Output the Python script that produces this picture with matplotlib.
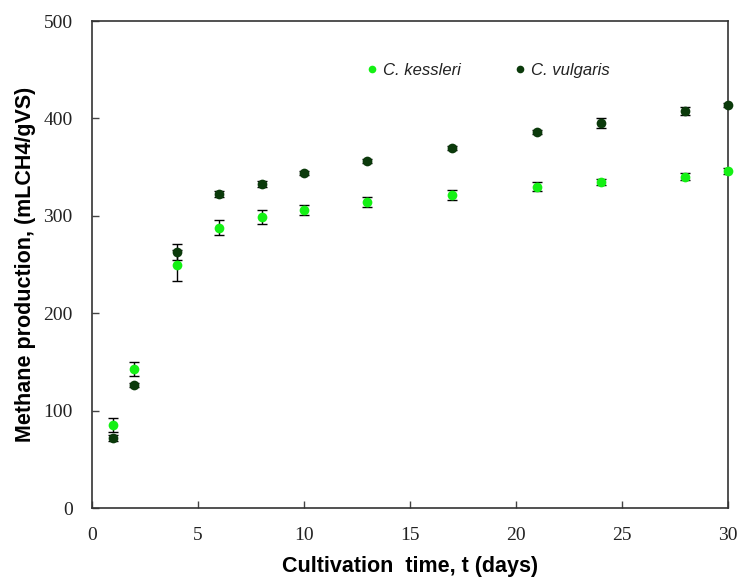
import numpy as np
import matplotlib.pyplot as plt
from matplotlib.lines import Line2D

# cultivation time (days)
days = [1, 2, 4, 6, 8, 10, 13, 17, 21, 24, 28, 30]

# cumulative methane yield, mL CH4 / g VS
kessleri = [85, 143, 249, 288, 299, 306, 314, 321, 330, 335, 340, 346]
kessleri_err = [7, 7, 16, 8, 7, 5, 5, 5, 5, 3, 3.5, 3]
vulgaris = [72, 126, 263, 322, 333, 344, 356, 370, 386, 395, 408, 414]
vulgaris_err = [3, 2, 8, 3, 3, 2, 2, 2, 2, 5, 4, 2]

kessleri_color = '#14f014'
vulgaris_color = '#0b3a0b'

fig = plt.figure(figsize=(7.39, 5.79), dpi=100)
ax = fig.add_axes([0.1245, 0.1226, 0.8602, 0.8411])

for y, err, col in [(kessleri, kessleri_err, kessleri_color),
                    (vulgaris, vulgaris_err, vulgaris_color)]:
    ax.errorbar(days, y, yerr=err, fmt='none', ecolor='black',
                elinewidth=1.0, capsize=3.5, capthick=1.0, zorder=2)
    ax.plot(days, y, 'o', color=col, markersize=7, markeredgewidth=0,
            zorder=3, clip_on=False)

ax.set_xlim(0, 30)
ax.set_ylim(0, 500)
ax.set_xticks(np.arange(0, 31, 5))
ax.set_yticks(np.arange(0, 501, 100))
ax.tick_params(direction='in', length=5, width=1, color='#444444',
               labelsize=14)
ax.tick_params(axis='x', pad=14)
ax.tick_params(axis='y', pad=14)
for lab in ax.get_xticklabels() + ax.get_yticklabels():
    lab.set_family('Liberation Serif')
    lab.set_color('#222222')
for side in ax.spines.values():
    side.set_color('#333333')
    side.set_linewidth(1.2)

ax.set_xlabel('Cultivation  time, t (days)', fontsize=15.5, fontweight='bold',
              family='Liberation Sans', labelpad=8)
ax.set_ylabel('Methane production, (mLCH4/gVS)', fontsize=15.5,
              fontweight='bold', family='Liberation Sans', labelpad=5)

handles = [Line2D([], [], ls='none', marker='o', color=kessleri_color,
                  markersize=5.5, markeredgewidth=0),
           Line2D([], [], ls='none', marker='o', color=vulgaris_color,
                  markersize=5.5, markeredgewidth=0)]
leg = ax.legend(handles, ['C. kessleri', 'C. vulgaris'], ncol=2,
                frameon=False, loc='center left', borderpad=0,
                bbox_to_anchor=(0.420, 0.899),
                handlelength=0.6, handletextpad=0.36, columnspacing=3.2,
                prop={'family': 'Liberation Sans', 'style': 'italic',
                      'size': 12})
for t in leg.get_texts():
    t.set_color('#222222')

fig.savefig('out.png', dpi=100)
